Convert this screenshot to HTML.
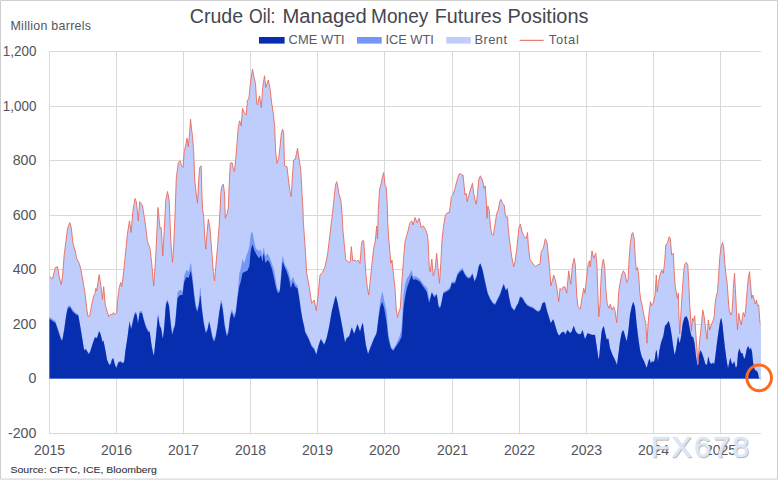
<!DOCTYPE html>
<html><head><meta charset="utf-8"><title>Crude Oil: Managed Money Futures Positions</title>
<style>
html,body{margin:0;padding:0;background:#fff;}
body{width:780px;height:483px;overflow:hidden;position:relative;font-family:"Liberation Sans",sans-serif;}
</style></head><body>
<svg width="780" height="483" viewBox="0 0 780 483" style="position:absolute;left:0;top:0;font-family:'Liberation Sans',sans-serif">
<rect x="0" y="0" width="780" height="483" fill="#fff"/>
<path d="M0.5 479.1V0.5H777.5V479.1Z" fill="none" stroke="#cfcfcf" stroke-width="1"/>
<path d="M49.5 51.5H761.2M49.5 106.5H761.2M49.5 160.5H761.2M49.5 215.5H761.2M49.5 269.5H761.2M49.5 324.5H761.2M49.5 378.5H761.2M49.5 433.5H761.2M49.5 51.0V434.3M116.5 51.0V434.3M183.5 51.0V434.3M250.5 51.0V434.3M317.5 51.0V434.3M384.5 51.0V434.3M452.5 51.0V434.3M519.5 51.0V434.3M586.5 51.0V434.3M653.5 51.0V434.3M720.5 51.0V434.3" stroke="#d9d9d9" stroke-width="1" fill="none"/>
<path d="M49.5 378.5L49.5 276.7L50.0 277.1L50.5 277.4L51.0 277.8L51.5 278.1L52.0 278.4L52.5 278.8L53.0 276.8L53.5 274.8L54.0 272.7L54.5 270.7L55.0 268.7L55.5 267.4L56.0 267.2L56.5 267.1L57.0 266.9L57.5 266.7L58.0 269.5L58.5 272.3L59.0 275.2L59.5 277.6L60.0 279.7L60.5 281.8L61.0 283.9L61.5 282.9L62.0 279.8L62.5 276.7L63.0 270.3L63.5 263.9L64.0 257.6L64.5 252.6L65.0 248.7L65.5 244.8L66.0 240.8L66.5 236.9L67.0 232.9L67.5 229.0L68.0 227.5L68.5 226.0L69.0 224.6L69.5 223.1L70.0 223.4L70.5 225.0L71.0 226.6L71.5 229.4L72.0 234.3L72.5 239.1L73.0 244.0L73.5 245.5L74.0 247.0L74.5 248.5L75.0 250.0L75.5 252.4L76.0 254.9L76.5 257.3L77.0 258.9L77.5 259.9L78.0 260.9L78.5 261.9L79.0 262.9L79.5 264.4L80.0 266.1L80.5 267.9L81.0 270.1L81.5 272.7L82.0 275.4L82.5 278.0L83.0 281.1L83.5 284.1L84.0 287.2L84.5 290.2L85.0 293.3L85.5 297.7L86.0 302.1L86.5 306.5L87.0 310.2L87.5 313.5L88.0 316.7L88.5 316.4L89.0 316.2L89.5 315.9L90.0 314.2L90.5 311.5L91.0 308.8L91.5 306.1L92.0 303.6L92.5 301.3L93.0 299.0L93.5 296.7L94.0 295.2L94.5 294.3L95.0 293.3L95.5 290.2L96.0 288.9L96.5 290.2L97.0 288.9L97.5 285.6L98.0 282.4L98.5 279.1L99.0 275.9L99.5 276.6L100.0 279.8L100.5 283.1L101.0 286.7L101.5 290.8L102.0 295.0L102.5 299.2L103.0 294.0L103.5 288.8L104.0 290.1L104.5 295.9L105.0 301.6L105.5 305.7L106.0 307.4L106.5 309.1L107.0 310.8L107.5 312.5L108.0 314.1L108.5 315.7L109.0 316.4L109.5 315.8L110.0 315.2L110.5 314.6L111.0 314.3L111.5 314.5L112.0 314.8L112.5 315.0L113.0 313.4L113.5 312.7L114.0 313.2L114.5 313.7L115.0 314.2L115.5 313.9L116.0 313.7L116.5 313.4L117.0 309.0L117.5 301.7L118.0 297.5L118.5 293.3L119.0 289.2L119.5 286.6L120.0 285.0L120.5 283.4L121.0 283.4L121.5 285.8L122.0 284.5L122.5 280.9L123.0 277.2L123.5 273.0L124.0 268.1L124.5 263.2L125.0 258.3L125.5 253.3L126.0 248.3L126.5 243.3L127.0 238.3L127.5 233.3L128.0 230.2L128.5 227.1L129.0 223.9L129.5 220.8L130.0 224.2L130.5 227.7L131.0 231.1L131.5 228.6L132.0 222.1L132.5 215.6L133.0 210.5L133.5 207.5L134.0 204.5L134.5 201.5L135.0 198.5L135.5 199.7L136.0 201.0L136.5 203.6L137.0 208.4L137.5 213.2L138.0 217.9L138.5 218.1L139.0 211.2L139.5 204.4L140.0 202.1L140.5 202.9L141.0 203.6L141.5 204.3L142.0 205.1L142.5 205.8L143.0 209.0L143.5 212.2L144.0 215.3L144.5 218.5L145.0 221.7L145.5 225.7L146.0 229.7L146.5 233.7L147.0 237.7L147.5 241.7L148.0 243.0L148.5 244.3L149.0 245.7L149.5 247.0L150.0 248.3L150.5 252.7L151.0 257.1L151.5 261.5L152.0 266.7L152.5 272.3L153.0 277.9L153.5 283.6L154.0 281.6L154.5 274.6L155.0 267.5L155.5 260.0L156.0 250.7L156.5 239.9L157.0 229.1L157.5 218.3L158.0 207.5L158.5 212.7L159.0 217.9L159.5 223.1L160.0 228.3L160.5 228.0L161.0 227.6L161.5 232.8L162.0 241.7L162.5 250.5L163.0 252.2L163.5 243.1L164.0 234.1L164.5 225.0L165.0 215.4L165.5 205.8L166.0 199.0L166.5 196.5L167.0 194.0L167.5 191.5L168.0 194.0L168.5 196.5L169.0 199.0L169.5 207.8L170.0 220.8L170.5 233.9L171.0 244.1L171.5 250.3L172.0 256.4L172.5 262.5L173.0 256.2L173.5 250.0L174.0 238.3L174.5 226.7L175.0 215.0L175.5 200.9L176.0 186.8L176.5 176.7L177.0 172.8L177.5 168.8L178.0 164.9L178.5 162.3L179.0 161.8L179.5 161.3L180.0 160.8L180.5 162.3L181.0 163.7L181.5 165.2L182.0 166.2L182.5 166.8L183.0 167.5L183.5 160.9L184.0 154.3L184.5 150.4L185.0 148.3L185.5 146.3L186.0 143.9L186.5 141.1L187.0 138.3L187.5 141.5L188.0 144.8L188.5 144.6L189.0 139.2L189.5 133.8L190.0 127.0L190.5 119.2L191.0 123.7L191.5 128.2L192.0 132.5L192.5 136.7L193.0 143.0L193.5 149.2L194.0 160.2L194.5 174.3L195.0 182.7L195.5 187.1L196.0 191.5L196.5 195.6L197.0 199.5L197.5 203.3L198.0 193.6L198.5 183.9L199.0 176.2L199.5 170.0L200.0 167.2L200.5 166.6L201.0 166.0L201.5 177.4L202.0 196.7L202.5 206.2L203.0 212.0L203.5 215.4L204.0 222.7L204.5 232.7L205.0 240.1L205.5 245.8L206.0 246.6L206.5 239.9L207.0 233.3L207.5 227.9L208.0 222.5L208.5 220.3L209.0 222.9L209.5 225.6L210.0 228.3L210.5 234.7L211.0 241.1L211.5 247.4L212.0 254.1L212.5 260.9L213.0 267.6L213.5 273.2L214.0 277.1L214.5 281.0L215.0 275.5L215.5 270.0L216.0 264.3L216.5 258.5L217.0 252.6L217.5 246.7L218.0 240.3L218.5 233.9L219.0 227.6L219.5 219.5L220.0 210.5L220.5 200.3L221.0 191.8L221.5 188.2L222.0 186.2L222.5 185.4L223.0 184.7L223.5 185.7L224.0 189.5L224.5 193.3L225.0 208.9L225.5 217.8L226.0 216.6L226.5 215.4L227.0 214.2L227.5 211.9L228.0 209.7L228.5 203.1L229.0 190.2L229.5 179.1L230.0 169.2L230.5 163.2L231.0 163.0L231.5 162.7L232.0 162.5L232.5 164.7L233.0 167.0L233.5 168.9L234.0 170.3L234.5 171.7L235.0 166.5L235.5 161.4L236.0 155.8L236.5 149.6L237.0 143.3L237.5 136.9L238.0 130.5L238.5 125.9L239.0 123.8L239.5 121.6L240.0 121.8L240.5 123.5L241.0 125.1L241.5 121.8L242.0 115.0L242.5 108.3L243.0 109.5L243.5 110.8L244.0 112.0L244.5 112.9L245.0 113.5L245.5 114.1L246.0 114.8L246.5 111.5L247.0 105.8L247.5 100.0L248.0 99.7L248.5 99.4L249.0 97.3L249.5 92.5L250.0 87.7L250.5 82.9L251.0 78.7L251.5 75.6L252.0 72.4L252.5 69.2L253.0 71.9L253.5 74.6L254.0 77.2L254.5 79.5L255.0 81.4L255.5 83.3L256.0 91.6L256.5 100.0L257.0 103.9L257.5 105.0L258.0 102.7L258.5 100.4L259.0 98.1L259.5 95.8L260.0 99.0L260.5 102.3L261.0 105.5L261.5 104.7L262.0 97.8L262.5 90.9L263.0 85.4L263.5 82.2L264.0 79.0L264.5 75.8L265.0 80.3L265.5 84.8L266.0 86.9L266.5 85.4L267.0 83.9L267.5 82.4L268.0 80.9L268.5 81.0L269.0 83.4L269.5 85.9L270.0 88.3L270.5 92.7L271.0 97.1L271.5 101.5L272.0 105.2L272.5 108.3L273.0 111.4L273.5 115.2L274.0 120.0L274.5 124.8L275.0 135.4L275.5 150.0L276.0 154.4L276.5 158.9L277.0 163.3L277.5 161.8L278.0 160.4L278.5 158.9L279.0 155.6L279.5 151.2L280.0 146.7L280.5 141.8L281.0 136.9L281.5 133.2L282.0 131.2L282.5 129.2L283.0 130.6L283.5 132.0L284.0 145.0L284.5 165.8L285.0 166.0L285.5 166.2L286.0 166.3L286.5 166.5L287.0 166.7L287.5 171.2L288.0 175.6L288.5 179.9L289.0 183.8L289.5 187.8L290.0 191.7L290.5 193.8L291.0 195.9L291.5 191.7L292.0 183.3L292.5 175.0L293.0 168.7L293.5 162.5L294.0 159.8L294.5 159.6L295.0 159.3L295.5 158.2L296.0 155.7L296.5 153.3L297.0 150.8L297.5 148.3L298.0 151.7L298.5 155.2L299.0 158.6L299.5 161.9L300.0 165.0L300.5 168.1L301.0 173.9L301.5 183.6L302.0 193.3L302.5 201.7L303.0 210.0L303.5 224.4L304.0 231.3L304.5 238.1L305.0 245.0L305.5 253.3L306.0 261.6L306.5 270.0L307.0 274.9L307.5 277.6L308.0 280.3L308.5 282.9L309.0 285.6L309.5 288.7L310.0 292.0L310.5 295.3L311.0 298.7L311.5 302.0L312.0 302.9L312.5 302.2L313.0 301.6L313.5 300.9L314.0 300.3L314.5 301.5L315.0 304.0L315.5 306.5L316.0 309.0L316.5 308.9L317.0 304.8L317.5 300.8L318.0 296.7L318.5 291.3L319.0 285.9L319.5 280.4L320.0 275.0L320.5 274.5L321.0 274.0L321.5 273.5L322.0 273.0L322.5 272.5L323.0 271.3L323.5 270.2L324.0 269.0L324.5 267.9L325.0 266.7L325.5 264.4L326.0 262.0L326.5 259.7L327.0 257.3L327.5 255.0L328.0 250.9L328.5 246.8L329.0 242.6L329.5 238.4L330.0 234.0L330.5 229.6L331.0 225.4L331.5 221.4L332.0 217.3L332.5 213.3L333.0 208.4L333.5 203.5L334.0 198.7L334.5 194.0L335.0 189.5L335.5 185.0L336.0 183.6L336.5 182.2L337.0 183.1L337.5 185.3L338.0 188.0L338.5 191.3L339.0 194.0L339.5 195.6L340.0 197.3L340.5 199.0L341.0 202.2L341.5 207.8L342.0 213.3L342.5 222.2L343.0 231.0L343.5 236.1L344.0 241.3L344.5 246.4L345.0 251.7L345.5 256.9L346.0 260.1L346.5 260.5L347.0 260.9L347.5 261.2L348.0 261.6L348.5 262.0L349.0 262.4L349.5 262.3L350.0 261.9L350.5 258.7L351.0 251.2L351.5 248.6L352.0 253.3L352.5 258.0L353.0 260.7L353.5 260.5L354.0 260.4L354.5 260.2L355.0 260.0L355.5 260.5L356.0 261.0L356.5 261.5L357.0 261.4L357.5 260.9L358.0 260.3L358.5 260.4L359.0 261.4L359.5 262.3L360.0 263.3L360.5 256.9L361.0 250.5L361.5 245.4L362.0 242.1L362.5 240.8L363.0 240.8L363.5 240.8L364.0 245.1L364.5 252.2L365.0 260.0L365.5 268.3L366.0 275.2L366.5 280.0L367.0 284.8L367.5 288.4L368.0 291.1L368.5 293.9L369.0 292.2L369.5 287.5L370.0 282.8L370.5 278.0L371.0 273.1L371.5 268.2L372.0 263.3L372.5 258.9L373.0 254.5L373.5 250.1L374.0 246.9L374.5 244.7L375.0 242.4L375.5 238.9L376.0 233.5L376.5 228.1L377.0 230.9L377.5 239.0L378.0 220.9L378.5 206.7L379.0 198.3L379.5 190.0L380.0 188.1L380.5 186.2L381.0 184.0L381.5 181.6L382.0 179.1L382.5 176.7L383.0 174.9L383.5 173.2L384.0 175.4L384.5 180.2L385.0 185.0L385.5 186.0L386.0 187.1L386.5 191.8L387.0 198.9L387.5 212.5L388.0 227.0L388.5 236.2L389.0 241.5L389.5 247.1L390.0 253.3L390.5 259.5L391.0 262.8L391.5 261.4L392.0 260.0L392.5 265.1L393.0 270.2L393.5 275.1L394.0 279.5L394.5 283.9L395.0 288.3L395.5 296.6L396.0 305.0L396.5 311.2L397.0 314.4L397.5 317.5L398.0 315.4L398.5 313.3L399.0 311.5L399.5 310.1L400.0 308.8L400.5 304.7L401.0 296.5L401.5 288.3L402.0 280.6L402.5 273.4L403.0 266.1L403.5 259.4L404.0 253.6L404.5 247.8L405.0 242.0L405.5 240.1L406.0 238.2L406.5 236.3L407.0 234.5L407.5 232.8L408.0 231.0L408.5 229.0L409.0 226.7L409.5 224.3L410.0 222.9L410.5 222.3L411.0 221.7L411.5 221.1L412.0 221.8L412.5 223.4L413.0 225.0L413.5 223.1L414.0 221.2L414.5 219.4L415.0 217.5L415.5 218.8L416.0 220.0L416.5 221.2L417.0 222.5L417.5 221.5L418.0 220.6L418.5 219.6L419.0 218.7L419.5 219.7L420.0 222.0L420.5 224.3L421.0 226.6L421.5 227.3L422.0 226.9L422.5 226.4L423.0 226.0L423.5 226.1L424.0 227.0L424.5 227.8L425.0 228.7L425.5 229.5L426.0 230.6L426.5 232.1L427.0 233.5L427.5 235.0L428.0 240.6L428.5 249.3L429.0 262.7L429.5 269.0L430.0 270.8L430.5 270.1L431.0 265.8L431.5 261.6L432.0 261.2L432.5 266.8L433.0 272.4L433.5 275.1L434.0 273.4L434.5 271.7L435.0 270.0L435.5 265.1L436.0 260.2L436.5 255.3L437.0 256.8L437.5 262.5L438.0 268.3L438.5 273.3L439.0 278.3L439.5 283.3L440.0 275.6L440.5 267.9L441.0 259.4L441.5 249.7L442.0 240.0L442.5 235.5L443.0 231.0L443.5 226.9L444.0 223.5L444.5 220.1L445.0 216.7L445.5 215.7L446.0 214.7L446.5 213.7L447.0 213.2L447.5 213.0L448.0 212.9L448.5 212.7L449.0 212.6L449.5 210.9L450.0 208.3L450.5 204.7L451.0 199.7L451.5 196.4L452.0 195.8L452.5 195.2L453.0 194.6L453.5 193.5L454.0 191.8L454.5 190.0L455.0 188.3L455.5 186.4L456.0 184.4L456.5 182.5L457.0 180.7L457.5 179.0L458.0 177.3L458.5 175.7L459.0 174.6L459.5 174.0L460.0 173.3L460.5 173.8L461.0 174.3L461.5 174.8L462.0 175.0L462.5 175.0L463.0 175.0L463.5 179.9L464.0 184.8L464.5 189.8L465.0 195.0L465.5 194.3L466.0 193.6L466.5 195.8L467.0 200.0L467.5 200.4L468.0 198.3L468.5 196.3L469.0 194.3L469.5 192.7L470.0 191.0L470.5 189.3L471.0 187.7L471.5 186.2L472.0 184.8L472.5 183.3L473.0 187.5L473.5 191.6L474.0 194.8L474.5 197.4L475.0 200.0L475.5 201.6L476.0 203.2L476.5 202.4L477.0 197.8L477.5 193.3L478.0 187.8L478.5 182.2L479.0 179.2L479.5 177.9L480.0 176.6L480.5 176.2L481.0 177.1L481.5 178.1L482.0 179.0L482.5 180.0L483.0 182.4L483.5 184.9L484.0 187.3L484.5 187.6L485.0 186.5L485.5 189.0L486.0 196.8L486.5 206.9L487.0 218.3L487.5 210.5L488.0 206.4L488.5 207.9L489.0 209.4L489.5 214.1L490.0 220.9L490.5 226.3L491.0 229.6L491.5 232.9L492.0 234.3L492.5 234.6L493.0 234.8L493.5 233.8L494.0 230.9L494.5 227.9L495.0 225.0L495.5 221.6L496.0 218.1L496.5 214.7L497.0 212.7L497.5 211.7L498.0 210.6L498.5 208.8L499.0 205.8L499.5 202.9L500.0 201.0L500.5 199.9L501.0 199.7L501.5 200.9L502.0 202.1L502.5 203.3L503.0 203.8L503.5 204.3L504.0 204.8L504.5 207.7L505.0 212.3L505.5 215.4L506.0 216.2L506.5 217.1L507.0 217.2L507.5 216.7L508.0 223.9L508.5 230.2L509.0 235.1L509.5 240.0L510.0 243.3L510.5 247.2L511.0 251.2L511.5 255.1L512.0 258.2L512.5 260.7L513.0 263.2L513.5 265.7L514.0 265.5L514.5 263.6L515.0 261.7L515.5 258.3L516.0 254.8L516.5 251.4L517.0 246.9L517.5 241.8L518.0 236.7L518.5 231.4L519.0 227.8L519.5 226.4L520.0 225.0L520.5 225.1L521.0 227.3L521.5 229.5L522.0 231.7L522.5 232.8L523.0 234.0L523.5 235.1L524.0 236.2L524.5 236.9L525.0 237.3L525.5 237.7L526.0 238.1L526.5 237.3L527.0 234.9L527.5 232.5L528.0 240.3L528.5 246.8L529.0 251.2L529.5 255.6L530.0 260.0L530.5 260.5L531.0 261.0L531.5 261.5L532.0 262.2L532.5 262.9L533.0 263.7L533.5 264.4L534.0 265.0L534.5 265.6L535.0 266.1L535.5 266.7L536.0 266.3L536.5 265.9L537.0 265.4L537.5 265.0L538.0 264.8L538.5 264.7L539.0 264.5L539.5 264.4L540.0 264.2L540.5 259.0L541.0 253.8L541.5 251.2L542.0 250.4L542.5 249.6L543.0 248.8L543.5 247.3L544.0 245.0L544.5 242.6L545.0 240.2L545.5 239.2L546.0 240.3L546.5 241.4L547.0 242.5L547.5 247.3L548.0 252.1L548.5 257.2L549.0 262.5L549.5 267.9L550.0 273.3L550.5 281.1L551.0 285.1L551.5 283.4L552.0 281.7L552.5 280.0L553.0 277.9L553.5 275.8L554.0 275.9L554.5 277.5L555.0 279.1L555.5 281.0L556.0 283.4L556.5 285.7L557.0 288.9L557.5 292.7L558.0 296.4L558.5 300.2L559.0 298.6L559.5 293.5L560.0 288.3L560.5 288.8L561.0 289.3L561.5 289.8L562.0 289.4L562.5 288.4L563.0 287.3L563.5 286.7L564.0 286.8L564.5 286.9L565.0 287.0L565.5 288.9L566.0 290.7L566.5 292.6L567.0 289.9L567.5 284.3L568.0 278.7L568.5 273.1L569.0 272.7L569.5 275.9L570.0 279.1L570.5 282.3L571.0 281.9L571.5 276.3L572.0 270.6L572.5 265.0L573.0 263.0L573.5 261.1L574.0 259.1L574.5 260.1L575.0 263.2L575.5 269.3L576.0 280.0L576.5 290.7L577.0 297.7L577.5 302.2L578.0 306.7L578.5 307.2L579.0 307.8L579.5 308.3L580.0 308.9L580.5 307.9L581.0 304.6L581.5 301.3L582.0 298.1L582.5 295.0L583.0 292.2L583.5 289.4L584.0 289.5L584.5 291.4L585.0 293.3L585.5 288.4L586.0 283.5L586.5 278.7L587.0 274.2L587.5 270.0L588.0 265.8L588.5 262.9L589.0 262.1L589.5 261.2L590.0 263.8L590.5 264.8L591.0 260.2L591.5 255.5L592.0 250.8L592.5 253.0L593.0 255.2L593.5 257.4L594.0 257.6L594.5 256.4L595.0 255.2L595.5 254.0L596.0 255.5L596.5 261.1L597.0 266.7L597.5 282.3L598.0 296.7L598.5 309.2L599.0 314.7L599.5 309.9L600.0 305.0L600.5 291.4L601.0 280.0L601.5 271.6L602.0 266.6L602.5 263.8L603.0 260.9L603.5 260.3L604.0 262.9L604.5 265.6L605.0 272.6L605.5 282.4L606.0 290.5L606.5 296.1L607.0 301.7L607.5 305.0L608.0 306.0L608.5 306.9L609.0 307.9L609.5 307.2L610.0 305.3L610.5 304.9L611.0 306.6L611.5 308.3L612.0 310.0L612.5 309.0L613.0 308.1L613.5 307.1L614.0 307.6L614.5 309.2L615.0 310.8L615.5 314.2L616.0 317.7L616.5 321.1L617.0 318.6L617.5 312.2L618.0 304.6L618.5 295.4L619.0 289.8L619.5 286.5L620.0 283.3L620.5 280.9L621.0 278.4L621.5 276.0L622.0 274.2L622.5 272.9L623.0 271.6L623.5 271.1L624.0 271.8L624.5 272.6L625.0 273.3L625.5 276.0L626.0 278.7L626.5 281.4L627.0 281.9L627.5 281.0L628.0 280.0L628.5 271.0L629.0 261.9L629.5 254.2L630.0 247.4L630.5 242.0L631.0 238.8L631.5 235.5L632.0 233.7L632.5 233.0L633.0 233.3L633.5 235.4L634.0 237.5L634.5 243.8L635.0 252.8L635.5 260.6L636.0 266.5L636.5 269.6L637.0 268.5L637.5 267.5L638.0 270.6L638.5 273.7L639.0 280.0L639.5 288.4L640.0 294.0L640.5 297.7L641.0 300.8L641.5 302.9L642.0 305.0L642.5 307.7L643.0 310.3L643.5 313.0L644.0 315.6L644.5 317.9L645.0 320.0L645.5 322.1L646.0 326.6L646.5 335.0L647.0 343.3L647.5 334.1L648.0 325.0L648.5 319.5L649.0 313.9L649.5 309.4L650.0 305.5L650.5 301.7L651.0 303.3L651.5 304.9L652.0 305.0L652.5 304.2L653.0 303.5L653.5 302.1L654.0 299.9L654.5 297.7L655.0 295.5L655.5 287.6L656.0 279.7L656.5 278.7L657.0 288.0L657.5 289.4L658.0 285.6L658.5 282.3L659.0 279.9L659.5 277.4L660.0 275.0L660.5 273.5L661.0 272.1L661.5 270.6L662.0 270.6L662.5 271.6L663.0 272.7L663.5 271.6L664.0 267.5L664.5 263.4L665.0 257.1L665.5 249.6L666.0 244.7L666.5 244.0L667.0 243.2L667.5 242.5L668.0 240.8L668.5 239.1L669.0 237.4L669.5 237.1L670.0 237.9L670.5 240.7L671.0 246.7L671.5 252.6L672.0 254.7L672.5 254.2L673.0 253.6L673.5 257.4L674.0 267.6L674.5 275.8L675.0 282.6L675.5 287.9L676.0 290.9L676.5 293.8L677.0 296.2L677.5 298.3L678.0 295.0L678.5 300.5L679.0 316.7L679.5 329.0L680.0 328.8L680.5 320.0L681.0 311.6L681.5 303.3L682.0 295.8L682.5 288.3L683.0 281.4L683.5 274.5L684.0 269.5L684.5 265.7L685.0 263.9L685.5 263.4L686.0 262.8L686.5 262.8L687.0 263.7L687.5 264.5L688.0 268.7L688.5 277.8L689.0 288.2L689.5 300.5L690.0 308.7L690.5 316.6L691.0 325.6L691.5 328.8L692.0 323.4L692.5 318.0L693.0 319.2L693.5 320.3L694.0 319.3L694.5 316.8L695.0 320.6L695.5 328.5L696.0 336.1L696.5 343.0L697.0 350.0L697.5 357.1L698.0 364.2L698.5 356.2L699.0 348.2L699.5 342.3L700.0 337.8L700.5 333.3L701.0 328.5L701.5 323.6L702.0 318.5L702.5 313.2L703.0 311.0L703.5 313.4L704.0 315.7L704.5 319.2L705.0 323.4L705.5 327.5L706.0 331.5L706.5 335.4L707.0 339.2L707.5 331.8L708.0 324.4L708.5 321.4L709.0 325.0L709.5 328.6L710.0 329.1L710.5 327.5L711.0 325.9L711.5 324.5L712.0 323.3L712.5 322.0L713.0 320.8L713.5 319.1L714.0 317.4L714.5 312.3L715.0 305.0L715.5 300.8L716.0 297.5L716.5 295.6L717.0 293.6L717.5 291.7L718.0 284.7L718.5 277.8L719.0 270.0L719.5 261.6L720.0 255.6L720.5 251.0L721.0 247.6L721.5 245.9L722.0 244.2L722.5 242.5L723.0 244.2L723.5 246.0L724.0 251.2L724.5 258.7L725.0 264.9L725.5 270.1L726.0 274.7L726.5 278.3L727.0 281.9L727.5 287.7L728.0 295.0L728.5 302.1L729.0 308.0L729.5 310.9L730.0 312.5L730.5 314.1L731.0 314.4L731.5 313.1L732.0 311.7L732.5 304.4L733.0 295.3L733.5 285.8L734.0 279.5L734.5 273.3L735.0 282.7L735.5 292.0L736.0 301.3L736.5 312.0L737.0 321.7L737.5 330.0L738.0 323.0L738.5 316.1L739.0 314.8L739.5 317.4L740.0 320.0L740.5 321.9L741.0 323.8L741.5 323.6L742.0 320.2L742.5 316.7L743.0 314.1L743.5 313.1L744.0 314.6L744.5 316.1L745.0 314.3L745.5 310.4L746.0 305.3L746.5 298.5L747.0 291.7L747.5 286.5L748.0 281.4L748.5 277.2L749.0 274.4L749.5 271.7L750.0 277.5L750.5 283.3L751.0 289.5L751.5 295.8L752.0 297.4L752.5 295.9L753.0 295.7L753.5 297.5L754.0 299.3L754.5 301.1L755.0 302.9L755.5 303.3L756.0 301.7L756.5 300.0L757.0 303.0L757.5 306.0L758.0 305.6L758.5 305.2L759.0 309.2L759.5 316.3L760.0 323.3L760.5 323.3L760.5 378.5 Z" fill="#becdfb"/>
<path d="M49.5 378.5L49.5 316.8L50.0 317.2L50.5 317.6L51.0 317.9L51.5 318.3L52.0 318.7L52.5 319.1L53.0 319.4L53.5 319.7L54.0 320.1L54.5 320.4L55.0 320.8L55.5 321.1L56.0 322.7L56.5 324.2L57.0 325.7L57.5 327.3L58.0 328.8L58.5 330.3L59.0 331.8L59.5 333.3L60.0 334.8L60.5 336.3L61.0 337.8L61.5 338.6L62.0 338.4L62.5 338.2L63.0 335.3L63.5 332.3L64.0 329.4L64.5 326.1L65.0 322.5L65.5 318.9L66.0 315.3L66.5 312.3L67.0 309.9L67.5 307.6L68.0 306.1L68.5 305.9L69.0 305.7L69.5 305.4L70.0 305.2L70.5 306.1L71.0 306.9L71.5 307.8L72.0 308.7L72.5 309.6L73.0 310.1L73.5 310.6L74.0 311.2L74.5 311.7L75.0 312.3L75.5 312.8L76.0 313.0L76.5 313.3L77.0 313.5L77.5 313.7L78.0 314.0L78.5 315.3L79.0 318.1L79.5 321.0L80.0 323.8L80.5 326.9L81.0 330.0L81.5 333.1L82.0 336.2L82.5 339.3L83.0 342.4L83.5 345.5L84.0 348.6L84.5 349.5L85.0 349.0L85.5 348.5L86.0 348.6L86.5 349.4L87.0 350.3L87.5 351.2L88.0 352.1L88.5 352.9L89.0 352.8L89.5 352.0L90.0 351.3L90.5 350.1L91.0 348.4L91.5 346.7L92.0 345.0L92.5 343.3L93.0 342.0L93.5 340.6L94.0 339.3L94.5 338.0L95.0 336.6L95.5 336.8L96.0 337.1L96.5 337.3L97.0 337.5L97.5 335.8L98.0 334.2L98.5 332.5L99.0 330.9L99.5 330.9L100.0 332.2L100.5 333.4L101.0 335.1L101.5 337.3L102.0 339.5L102.5 341.7L103.0 340.1L103.5 340.2L104.0 342.7L104.5 345.2L105.0 347.7L105.5 350.4L106.0 353.3L106.5 356.3L107.0 359.2L107.5 360.3L108.0 361.5L108.5 362.6L109.0 363.7L109.5 364.1L110.0 363.8L110.5 363.5L111.0 362.5L111.5 360.1L112.0 358.9L112.5 358.3L113.0 357.8L113.5 358.3L114.0 360.4L114.5 362.6L115.0 364.2L115.5 365.4L116.0 366.7L116.5 366.9L117.0 365.5L117.5 364.0L118.0 362.6L118.5 361.6L119.0 361.5L119.5 361.3L120.0 361.2L120.5 361.0L121.0 361.1L121.5 361.6L122.0 362.0L122.5 362.5L123.0 362.3L123.5 362.0L124.0 361.8L124.5 358.8L125.0 353.8L125.5 349.5L126.0 346.2L126.5 342.9L127.0 339.5L127.5 336.2L128.0 332.2L128.5 328.2L129.0 324.3L129.5 320.3L130.0 322.4L130.5 324.7L131.0 326.9L131.5 326.3L132.0 324.0L132.5 321.6L133.0 319.2L133.5 317.2L134.0 315.3L134.5 313.4L135.0 311.4L135.5 311.8L136.0 312.2L136.5 312.6L137.0 314.8L137.5 318.4L138.0 321.9L138.5 318.6L139.0 315.2L139.5 311.9L140.0 310.7L140.5 310.8L141.0 311.0L141.5 311.2L142.0 311.3L142.5 313.3L143.0 315.3L143.5 317.3L144.0 319.1L144.5 320.7L145.0 322.3L145.5 324.0L146.0 325.7L146.5 326.7L147.0 327.8L147.5 328.8L148.0 329.9L148.5 330.5L149.0 330.5L149.5 330.5L150.0 332.8L150.5 336.5L151.0 340.2L151.5 344.0L152.0 346.9L152.5 349.3L153.0 351.6L153.5 354.0L154.0 353.6L154.5 349.0L155.0 344.4L155.5 339.8L156.0 334.9L156.5 329.6L157.0 324.3L157.5 318.9L158.0 313.6L158.5 316.9L159.0 320.2L159.5 323.5L160.0 325.3L160.5 326.0L161.0 326.8L161.5 329.2L162.0 332.8L162.5 336.4L163.0 336.8L163.5 332.5L164.0 328.2L164.5 322.2L165.0 315.0L165.5 307.8L166.0 302.9L166.5 301.6L167.0 300.3L167.5 299.6L168.0 301.1L168.5 302.6L169.0 304.1L169.5 309.3L170.0 314.6L170.5 319.8L171.0 324.3L171.5 327.7L172.0 331.2L172.5 332.3L173.0 329.9L173.5 327.6L174.0 325.9L174.5 324.7L175.0 323.5L175.5 317.4L176.0 311.3L176.5 305.1L177.0 299.0L177.5 292.9L178.0 291.6L178.5 291.2L179.0 290.7L179.5 290.3L180.0 289.8L180.5 290.1L181.0 290.5L181.5 290.8L182.0 291.2L182.5 291.6L183.0 288.1L183.5 282.9L184.0 277.8L184.5 274.9L185.0 273.6L185.5 272.3L186.0 271.0L186.5 269.7L187.0 269.7L187.5 270.4L188.0 271.2L188.5 272.0L189.0 270.8L189.5 268.3L190.0 265.7L190.5 263.2L191.0 263.4L191.5 267.6L192.0 271.8L192.5 275.9L193.0 281.1L193.5 286.0L194.0 290.9L194.5 295.4L195.0 299.5L195.5 303.1L196.0 305.7L196.5 306.7L197.0 307.7L197.5 308.7L198.0 306.2L198.5 303.8L199.0 301.3L199.5 295.3L200.0 288.4L200.5 287.3L201.0 294.8L201.5 302.3L202.0 307.6L202.5 311.5L203.0 315.4L203.5 319.3L204.0 322.4L204.5 325.0L205.0 327.5L205.5 329.8L206.0 330.9L206.5 329.9L207.0 328.9L207.5 327.9L208.0 325.4L208.5 322.9L209.0 320.5L209.5 321.0L210.0 323.6L210.5 326.1L211.0 328.6L211.5 331.1L212.0 333.5L212.5 335.9L213.0 336.9L213.5 338.0L214.0 339.1L214.5 338.5L215.0 336.8L215.5 335.1L216.0 332.9L216.5 329.9L217.0 326.9L217.5 323.9L218.0 320.0L218.5 316.0L219.0 312.0L219.5 308.7L220.0 305.7L220.5 302.8L221.0 299.9L221.5 300.3L222.0 302.9L222.5 305.5L223.0 308.9L223.5 313.3L224.0 317.8L224.5 322.2L225.0 324.9L225.5 327.6L226.0 330.3L226.5 332.9L227.0 333.4L227.5 332.4L228.0 331.3L228.5 329.0L229.0 324.6L229.5 320.2L230.0 315.8L230.5 313.8L231.0 311.7L231.5 309.7L232.0 309.6L232.5 310.8L233.0 312.1L233.5 313.3L234.0 314.5L234.5 314.0L235.0 312.4L235.5 310.7L236.0 307.9L236.5 303.4L237.0 298.9L237.5 294.4L238.0 290.9L238.5 283.7L239.0 276.6L239.5 272.8L240.0 271.2L240.5 269.6L241.0 267.5L241.5 264.5L242.0 261.5L242.5 258.5L243.0 260.0L243.5 261.5L244.0 263.0L244.5 262.5L245.0 260.6L245.5 258.8L246.0 257.0L246.5 255.1L247.0 253.9L247.5 253.0L248.0 251.3L248.5 249.5L249.0 247.7L249.5 245.9L250.0 241.0L250.5 236.2L251.0 233.2L251.5 232.8L252.0 232.4L252.5 231.9L253.0 234.8L253.5 237.6L254.0 240.5L254.5 242.8L255.0 244.9L255.5 247.0L256.0 248.4L256.5 249.0L257.0 249.4L257.5 249.7L258.0 250.0L258.5 250.4L259.0 251.2L259.5 251.0L260.0 250.1L260.5 249.6L261.0 250.2L261.5 252.6L262.0 254.6L262.5 256.4L263.0 252.1L263.5 247.7L264.0 248.0L264.5 251.3L265.0 254.6L265.5 256.5L266.0 255.7L266.5 254.9L267.0 254.1L267.5 253.3L268.0 254.1L268.5 255.0L269.0 255.8L269.5 257.2L270.0 258.8L270.5 259.9L271.0 261.1L271.5 262.2L272.0 263.8L272.5 265.6L273.0 266.9L273.5 268.1L274.0 269.5L274.5 271.9L275.0 275.0L275.5 278.1L276.0 281.1L276.5 283.9L277.0 286.7L277.5 289.5L278.0 289.7L278.5 290.0L279.0 290.2L279.5 290.4L280.0 286.6L280.5 280.0L281.0 273.1L281.5 265.7L282.0 260.8L282.5 256.0L283.0 256.7L283.5 258.9L284.0 261.1L284.5 263.0L285.0 264.8L285.5 265.6L286.0 266.4L286.5 267.2L287.0 268.2L287.5 269.4L288.0 270.6L288.5 271.7L289.0 273.2L289.5 275.2L290.0 277.2L290.5 280.1L291.0 281.3L291.5 280.1L292.0 278.9L292.5 277.7L293.0 276.5L293.5 278.1L294.0 279.6L294.5 281.1L295.0 282.6L295.5 283.2L296.0 283.8L296.5 284.4L297.0 285.0L297.5 285.5L298.0 288.6L298.5 291.7L299.0 294.8L299.5 298.3L300.0 302.1L300.5 305.9L301.0 309.3L301.5 312.3L302.0 315.3L302.5 318.2L303.0 320.3L303.5 322.3L304.0 324.3L304.5 327.1L305.0 330.5L305.5 331.5L306.0 332.4L306.5 333.4L307.0 334.4L307.5 335.3L308.0 336.3L308.5 337.4L309.0 338.6L309.5 339.9L310.0 341.1L310.5 342.3L311.0 343.6L311.5 344.8L312.0 345.6L312.5 346.1L313.0 346.7L313.5 347.2L314.0 347.7L314.5 348.7L315.0 350.1L315.5 351.5L316.0 352.9L316.5 352.9L317.0 350.8L317.5 348.8L318.0 346.7L318.5 344.9L319.0 343.4L319.5 341.9L320.0 340.4L320.5 338.9L321.0 338.4L321.5 339.2L322.0 340.1L322.5 341.0L323.0 341.8L323.5 342.7L324.0 343.5L324.5 343.1L325.0 341.8L325.5 340.4L326.0 339.1L326.5 337.8L327.0 335.8L327.5 333.5L328.0 331.2L328.5 328.9L329.0 326.6L329.5 323.9L330.0 320.9L330.5 317.9L331.0 314.9L331.5 311.9L332.0 309.5L332.5 307.5L333.0 305.5L333.5 303.5L334.0 301.5L334.5 299.5L335.0 297.6L335.5 295.7L336.0 295.3L336.5 297.4L337.0 299.4L337.5 301.5L338.0 304.0L338.5 306.5L339.0 309.0L339.5 311.5L340.0 314.0L340.5 316.7L341.0 319.3L341.5 322.0L342.0 324.6L342.5 327.3L343.0 330.1L343.5 333.0L344.0 335.8L344.5 338.7L345.0 341.5L345.5 340.3L346.0 339.0L346.5 337.8L347.0 337.1L347.5 336.8L348.0 336.5L348.5 336.1L349.0 335.8L349.5 334.6L350.0 332.8L350.5 330.9L351.0 329.1L351.5 327.2L352.0 327.3L352.5 328.6L353.0 330.0L353.5 331.3L354.0 332.7L354.5 332.3L355.0 330.8L355.5 329.3L356.0 327.7L356.5 326.2L357.0 324.7L357.5 323.2L358.0 324.7L358.5 326.2L359.0 327.7L359.5 329.2L360.0 330.7L360.5 329.1L361.0 327.4L361.5 325.8L362.0 324.1L362.5 322.5L363.0 323.0L363.5 326.9L364.0 330.8L364.5 334.5L365.0 338.1L365.5 341.8L366.0 344.8L366.5 346.9L367.0 349.0L367.5 351.1L368.0 353.2L368.5 351.9L369.0 350.5L369.5 349.2L370.0 347.8L370.5 346.5L371.0 345.2L371.5 344.0L372.0 342.7L372.5 341.5L373.0 340.3L373.5 339.0L374.0 337.8L374.5 336.7L375.0 335.7L375.5 334.7L376.0 333.7L376.5 332.1L377.0 328.6L377.5 323.9L378.0 319.2L378.5 314.8L379.0 310.9L379.5 307.0L380.0 303.0L380.5 299.7L381.0 297.3L381.5 294.8L382.0 292.4L382.5 291.7L383.0 294.2L383.5 296.8L384.0 299.3L384.5 301.7L385.0 304.1L385.5 306.5L386.0 308.9L386.5 311.3L387.0 316.2L387.5 322.8L388.0 329.4L388.5 334.3L389.0 336.8L389.5 339.2L390.0 341.7L390.5 344.2L391.0 346.1L391.5 347.0L392.0 348.0L392.5 348.4L393.0 348.9L393.5 348.8L394.0 347.9L394.5 347.0L395.0 346.1L395.5 345.3L396.0 344.4L396.5 343.3L397.0 342.2L397.5 341.1L398.0 340.0L398.5 338.9L399.0 337.7L399.5 336.5L400.0 335.1L400.5 332.9L401.0 330.7L401.5 328.5L402.0 321.8L402.5 312.3L403.0 302.7L403.5 295.5L404.0 291.8L404.5 288.4L405.0 285.3L405.5 283.3L406.0 281.4L406.5 279.4L407.0 278.3L407.5 277.7L408.0 277.1L408.5 276.3L409.0 275.3L409.5 274.3L410.0 273.2L410.5 272.2L411.0 271.1L411.5 270.1L412.0 271.9L412.5 273.8L413.0 275.6L413.5 276.7L414.0 276.6L414.5 276.5L415.0 276.4L415.5 276.3L416.0 276.5L416.5 276.8L417.0 277.2L417.5 277.6L418.0 278.0L418.5 278.3L419.0 278.6L419.5 278.9L420.0 279.2L420.5 280.0L421.0 280.7L421.5 281.5L422.0 282.2L422.5 282.9L423.0 283.5L423.5 284.2L424.0 284.9L424.5 285.5L425.0 286.2L425.5 286.5L426.0 286.8L426.5 287.0L427.0 288.3L427.5 290.1L428.0 292.0L428.5 294.5L429.0 298.0L429.5 298.9L430.0 297.9L430.5 295.9L431.0 293.8L431.5 291.8L432.0 291.5L432.5 292.4L433.0 293.3L433.5 294.2L434.0 295.1L434.5 295.4L435.0 295.5L435.5 294.6L436.0 293.7L436.5 292.9L437.0 294.6L437.5 298.0L438.0 301.4L438.5 304.8L439.0 305.8L439.5 306.2L440.0 306.6L440.5 305.5L441.0 303.4L441.5 301.3L442.0 298.9L442.5 296.1L443.0 293.4L443.5 291.7L444.0 291.5L444.5 291.2L445.0 291.0L445.5 290.7L446.0 290.5L446.5 290.2L447.0 289.9L447.5 289.5L448.0 289.1L448.5 288.7L449.0 288.3L449.5 287.9L450.0 287.5L450.5 285.8L451.0 284.0L451.5 282.3L452.0 281.6L452.5 281.6L453.0 281.5L453.5 281.5L454.0 281.5L454.5 281.5L455.0 281.5L455.5 279.8L456.0 278.1L456.5 276.4L457.0 274.8L457.5 273.1L458.0 272.4L458.5 271.7L459.0 271.1L459.5 270.4L460.0 269.7L460.5 269.4L461.0 269.1L461.5 268.8L462.0 268.4L462.5 268.1L463.0 269.1L463.5 270.2L464.0 271.2L464.5 272.2L465.0 273.2L465.5 273.9L466.0 274.6L466.5 275.3L467.0 276.0L467.5 276.7L468.0 276.7L468.5 276.7L469.0 276.8L469.5 276.8L470.0 276.8L470.5 276.0L471.0 275.2L471.5 274.4L472.0 273.6L472.5 272.8L473.0 274.7L473.5 276.6L474.0 278.5L474.5 280.4L475.0 279.3L475.5 278.2L476.0 277.1L476.5 276.0L477.0 274.0L477.5 271.6L478.0 269.1L478.5 266.6L479.0 265.0L479.5 264.0L480.0 262.9L480.5 262.9L481.0 264.4L481.5 265.9L482.0 267.4L482.5 268.9L483.0 271.3L483.5 273.6L484.0 275.9L484.5 278.3L485.0 280.6L485.5 282.8L486.0 285.1L486.5 287.3L487.0 289.6L487.5 291.8L488.0 293.0L488.5 294.2L489.0 295.4L489.5 296.6L490.0 297.8L490.5 298.6L491.0 299.4L491.5 300.1L492.0 300.9L492.5 301.7L493.0 302.1L493.5 302.5L494.0 302.9L494.5 303.3L495.0 303.7L495.5 302.7L496.0 301.7L496.5 300.6L497.0 299.6L497.5 298.6L498.0 297.6L498.5 296.6L499.0 295.6L499.5 294.6L500.0 293.6L500.5 292.1L501.0 290.6L501.5 289.1L502.0 287.7L502.5 286.2L503.0 284.7L503.5 283.3L504.0 283.7L504.5 285.4L505.0 287.0L505.5 288.6L506.0 289.3L506.5 288.6L507.0 287.9L507.5 287.2L508.0 290.2L508.5 293.2L509.0 296.2L509.5 298.8L510.0 301.0L510.5 303.2L511.0 305.3L511.5 306.6L512.0 307.2L512.5 307.8L513.0 308.4L513.5 309.1L514.0 309.7L514.5 309.4L515.0 308.4L515.5 307.3L516.0 306.3L516.5 305.3L517.0 304.5L517.5 303.7L518.0 302.9L518.5 301.7L519.0 299.8L519.5 298.0L520.0 296.1L520.5 296.4L521.0 296.6L521.5 296.9L522.0 297.1L522.5 297.4L523.0 298.3L523.5 299.2L524.0 300.1L524.5 301.0L525.0 301.9L525.5 302.4L526.0 303.0L526.5 303.6L527.0 304.2L527.5 304.8L528.0 305.1L528.5 305.3L529.0 305.5L529.5 305.8L530.0 306.0L530.5 306.2L531.0 306.4L531.5 306.6L532.0 306.8L532.5 307.0L533.0 307.2L533.5 307.5L534.0 307.9L534.5 308.4L535.0 308.8L535.5 309.2L536.0 309.6L536.5 309.9L537.0 310.2L537.5 310.5L538.0 310.8L538.5 310.8L539.0 310.3L539.5 309.9L540.0 309.4L540.5 308.7L541.0 307.1L541.5 305.5L542.0 303.9L542.5 302.3L543.0 302.1L543.5 302.0L544.0 301.8L544.5 301.7L545.0 301.5L545.5 303.7L546.0 305.9L546.5 308.2L547.0 310.1L547.5 311.7L548.0 313.4L548.5 315.1L549.0 316.8L549.5 318.4L550.0 320.0L550.5 321.5L551.0 322.2L551.5 321.4L552.0 320.6L552.5 319.8L553.0 319.0L553.5 319.2L554.0 320.9L554.5 322.6L555.0 324.3L555.5 326.0L556.0 327.7L556.5 329.4L557.0 331.0L557.5 332.7L558.0 333.5L558.5 334.2L559.0 335.0L559.5 334.9L560.0 334.2L560.5 333.6L561.0 332.9L561.5 332.3L562.0 331.9L562.5 331.7L563.0 331.6L563.5 331.4L564.0 331.3L564.5 332.4L565.0 334.5L565.5 333.5L566.0 332.5L566.5 331.5L567.0 330.5L567.5 329.5L568.0 330.2L568.5 330.8L569.0 331.5L569.5 332.1L570.0 332.8L570.5 332.3L571.0 331.9L571.5 331.4L572.0 330.3L572.5 328.8L573.0 327.4L573.5 325.9L574.0 326.1L574.5 327.6L575.0 329.0L575.5 330.4L576.0 331.4L576.5 331.9L577.0 332.4L577.5 332.9L578.0 333.4L578.5 333.7L579.0 333.7L579.5 333.7L580.0 333.7L580.5 333.7L581.0 333.2L581.5 332.0L582.0 330.7L582.5 329.5L583.0 331.4L583.5 333.2L584.0 335.0L584.5 336.9L585.0 338.7L585.5 337.5L586.0 336.4L586.5 335.2L587.0 334.0L587.5 332.8L588.0 333.0L588.5 333.2L589.0 333.4L589.5 333.5L590.0 333.7L590.5 333.9L591.0 334.0L591.5 334.2L592.0 334.4L592.5 334.5L593.0 334.5L593.5 334.5L594.0 334.5L594.5 334.5L595.0 334.5L595.5 338.0L596.0 341.4L596.5 344.8L597.0 348.2L597.5 351.6L598.0 354.9L598.5 358.3L599.0 358.2L599.5 352.9L600.0 347.7L600.5 342.5L601.0 337.4L601.5 332.3L602.0 329.6L602.5 328.3L603.0 327.1L603.5 325.8L604.0 326.7L604.5 329.1L605.0 331.4L605.5 333.8L606.0 336.2L606.5 338.6L607.0 339.2L607.5 338.7L608.0 338.1L608.5 339.0L609.0 341.9L609.5 344.9L610.0 347.8L610.5 349.2L611.0 350.5L611.5 351.8L612.0 353.2L612.5 354.5L613.0 355.5L613.5 356.5L614.0 357.5L614.5 358.5L615.0 359.5L615.5 360.8L616.0 362.0L616.5 363.3L617.0 364.5L617.5 360.7L618.0 356.8L618.5 353.0L619.0 349.1L619.5 345.1L620.0 341.2L620.5 338.5L621.0 335.8L621.5 333.1L622.0 331.6L622.5 330.8L623.0 330.0L623.5 330.2L624.0 331.9L624.5 333.6L625.0 335.3L625.5 337.1L626.0 338.8L626.5 340.5L627.0 339.4L627.5 336.2L628.0 333.1L628.5 329.3L629.0 324.4L629.5 319.4L630.0 314.5L630.5 312.1L631.0 309.7L631.5 307.2L632.0 305.3L632.5 303.7L633.0 302.2L633.5 301.9L634.0 303.6L634.5 305.3L635.0 307.0L635.5 312.2L636.0 317.3L636.5 322.5L637.0 327.0L637.5 331.2L638.0 335.3L638.5 339.2L639.0 342.7L639.5 346.1L640.0 349.5L640.5 351.5L641.0 353.5L641.5 355.5L642.0 356.8L642.5 357.8L643.0 358.8L643.5 359.8L644.0 360.8L644.5 362.0L645.0 363.4L645.5 364.7L646.0 366.0L646.5 367.3L647.0 366.6L647.5 364.5L648.0 362.5L648.5 360.8L649.0 359.5L649.5 358.3L650.0 359.4L650.5 362.0L651.0 363.0L651.5 361.8L652.0 360.5L652.5 361.1L653.0 361.7L653.5 361.7L654.0 360.8L654.5 359.9L655.0 357.3L655.5 353.5L656.0 350.4L656.5 349.8L657.0 352.2L657.5 356.7L658.0 361.2L658.5 357.3L659.0 353.4L659.5 349.5L660.0 347.2L660.5 344.8L661.0 342.5L661.5 340.8L662.0 339.5L662.5 338.1L663.0 336.8L663.5 334.8L664.0 331.7L664.5 328.6L665.0 325.6L665.5 325.1L666.0 324.6L666.5 324.1L667.0 323.4L667.5 322.5L668.0 321.6L668.5 320.7L669.0 321.5L669.5 323.5L670.0 325.4L670.5 327.8L671.0 330.8L671.5 333.8L672.0 337.3L672.5 341.1L673.0 344.8L673.5 348.2L674.0 351.1L674.5 353.9L675.0 353.7L675.5 351.3L676.0 349.0L676.5 346.2L677.0 342.7L677.5 339.2L678.0 335.8L678.5 338.1L679.0 340.3L679.5 342.6L680.0 341.9L680.5 339.1L681.0 336.2L681.5 332.9L682.0 328.8L682.5 324.7L683.0 322.1L683.5 320.4L684.0 318.7L684.5 317.1L685.0 316.8L685.5 316.4L686.0 316.1L686.5 315.8L687.0 316.8L687.5 318.2L688.0 319.5L688.5 321.2L689.0 324.2L689.5 327.2L690.0 330.0L690.5 332.0L691.0 334.0L691.5 336.1L692.0 336.3L692.5 336.6L693.0 336.9L693.5 338.0L694.0 340.3L694.5 342.6L695.0 346.6L695.5 351.6L696.0 355.8L696.5 359.0L697.0 362.2L697.5 365.4L698.0 364.2L698.5 358.4L699.0 355.4L699.5 353.1L700.0 350.9L700.5 350.0L701.0 350.9L701.5 351.9L702.0 352.9L702.5 354.3L703.0 355.8L703.5 357.3L704.0 359.0L704.5 360.8L705.0 362.7L705.5 363.9L706.0 364.1L706.5 364.3L707.0 364.6L707.5 361.0L708.0 357.5L708.5 356.3L709.0 358.7L709.5 361.1L710.0 362.3L710.5 362.8L711.0 363.2L711.5 363.6L712.0 363.4L712.5 362.7L713.0 362.1L713.5 363.1L714.0 364.2L714.5 362.3L715.0 358.5L715.5 354.6L716.0 350.4L716.5 346.2L717.0 342.4L717.5 338.7L718.0 335.1L718.5 331.5L719.0 328.1L719.5 324.7L720.0 321.3L720.5 319.7L721.0 318.0L721.5 318.3L722.0 321.5L722.5 324.6L723.0 329.5L723.5 334.3L724.0 339.0L724.5 343.4L725.0 347.9L725.5 351.7L726.0 355.6L726.5 359.1L727.0 362.0L727.5 364.9L728.0 367.9L728.5 365.5L729.0 363.1L729.5 360.7L730.0 358.4L730.5 357.9L731.0 360.0L731.5 362.1L732.0 363.1L732.5 363.4L733.0 363.8L733.5 362.4L734.0 361.0L734.5 361.8L735.0 364.1L735.5 366.5L736.0 367.5L736.5 366.4L737.0 365.4L737.5 359.1L738.0 352.9L738.5 351.2L739.0 349.6L739.5 347.9L740.0 349.8L740.5 351.7L741.0 352.9L741.5 352.9L742.0 352.9L742.5 352.9L743.0 354.6L743.5 356.4L744.0 358.1L744.5 358.1L745.0 357.0L745.5 355.2L746.0 352.5L746.5 349.9L747.0 348.2L747.5 347.1L748.0 346.0L748.5 346.0L749.0 347.5L749.5 349.0L750.0 348.9L750.5 347.8L751.0 347.8L751.5 349.5L752.0 351.3L752.5 356.3L753.0 361.3L753.5 364.0L754.0 366.8L754.5 368.6L755.0 369.7L755.5 370.4L756.0 370.4L756.5 370.4L757.0 371.0L757.5 371.9L758.0 372.9L758.5 375.9L759.0 377.5L759.5 378.1L760.0 378.1L760.5 378.1L760.5 378.5 Z" fill="#7496f6"/>
<path d="M49.5 378.5L49.5 318.8L50.0 319.2L50.5 319.5L51.0 319.9L51.5 320.3L52.0 320.6L52.5 321.0L53.0 321.3L53.5 321.7L54.0 322.0L54.5 322.3L55.0 322.7L55.5 323.0L56.0 324.5L56.5 326.1L57.0 327.6L57.5 329.1L58.0 330.6L58.5 332.1L59.0 333.6L59.5 335.1L60.0 336.6L60.5 338.1L61.0 339.6L61.5 340.4L62.0 340.2L62.5 340.0L63.0 337.1L63.5 334.1L64.0 331.2L64.5 327.9L65.0 324.3L65.5 320.7L66.0 317.1L66.5 314.1L67.0 311.7L67.5 309.4L68.0 307.9L68.5 307.7L69.0 307.5L69.5 307.2L70.0 307.0L70.5 307.8L71.0 308.7L71.5 309.5L72.0 310.4L72.5 311.2L73.0 311.7L73.5 312.2L74.0 312.8L74.5 313.3L75.0 313.8L75.5 314.2L76.0 314.4L76.5 314.7L77.0 314.9L77.5 315.1L78.0 315.3L78.5 316.5L79.0 319.4L79.5 322.2L80.0 325.0L80.5 328.1L81.0 331.1L81.5 334.2L82.0 337.2L82.5 340.3L83.0 343.4L83.5 346.5L84.0 349.6L84.5 350.5L85.0 350.0L85.5 349.5L86.0 349.5L86.5 350.4L87.0 351.3L87.5 352.1L88.0 353.0L88.5 353.9L89.0 353.7L89.5 352.9L90.0 352.2L90.5 351.0L91.0 349.3L91.5 347.6L92.0 345.9L92.5 344.2L93.0 342.9L93.5 341.5L94.0 340.2L94.5 338.8L95.0 337.5L95.5 337.7L96.0 337.9L96.5 338.1L97.0 338.3L97.5 336.6L98.0 335.0L98.5 333.3L99.0 331.7L99.5 331.8L100.0 333.0L100.5 334.2L101.0 335.9L101.5 338.1L102.0 340.3L102.5 342.5L103.0 340.9L103.5 341.0L104.0 343.5L104.5 346.0L105.0 348.5L105.5 351.2L106.0 354.1L106.5 357.1L107.0 360.0L107.5 361.1L108.0 362.3L108.5 363.4L109.0 364.5L109.5 364.9L110.0 364.6L110.5 364.3L111.0 363.3L111.5 360.9L112.0 359.7L112.5 359.1L113.0 358.6L113.5 359.1L114.0 361.2L114.5 363.4L115.0 365.0L115.5 366.2L116.0 367.5L116.5 367.7L117.0 366.3L117.5 364.8L118.0 363.4L118.5 362.4L119.0 362.3L119.5 362.1L120.0 362.0L120.5 361.8L121.0 361.9L121.5 362.4L122.0 362.8L122.5 363.3L123.0 363.1L123.5 362.8L124.0 362.6L124.5 359.6L125.0 354.6L125.5 350.4L126.0 347.2L126.5 344.0L127.0 340.7L127.5 337.5L128.0 333.6L128.5 329.8L129.0 325.9L129.5 322.0L130.0 324.2L130.5 326.5L131.0 328.7L131.5 328.2L132.0 325.8L132.5 323.4L133.0 321.0L133.5 319.1L134.0 317.1L134.5 315.2L135.0 313.3L135.5 313.7L136.0 314.1L136.5 314.4L137.0 316.7L137.5 320.3L138.0 323.8L138.5 320.5L139.0 317.2L139.5 313.8L140.0 312.6L140.5 312.8L141.0 313.0L141.5 313.1L142.0 313.3L142.5 315.3L143.0 317.3L143.5 319.3L144.0 321.1L144.5 322.7L145.0 324.3L145.5 325.9L146.0 327.5L146.5 328.5L147.0 329.5L147.5 330.4L148.0 331.4L148.5 332.0L149.0 331.9L149.5 331.7L150.0 334.0L150.5 337.7L151.0 341.5L151.5 345.2L152.0 348.1L152.5 350.5L153.0 352.9L153.5 355.3L154.0 354.9L154.5 350.3L155.0 345.7L155.5 341.1L156.0 336.2L156.5 330.9L157.0 325.6L157.5 320.3L158.0 315.0L158.5 318.3L159.0 321.6L159.5 324.9L160.0 326.7L160.5 327.4L161.0 328.2L161.5 330.7L162.0 334.2L162.5 337.8L163.0 338.3L163.5 334.0L164.0 329.7L164.5 323.7L165.0 316.5L165.5 309.3L166.0 304.5L166.5 303.2L167.0 302.0L167.5 301.3L168.0 302.9L168.5 304.4L169.0 306.0L169.5 311.3L170.0 316.6L170.5 321.8L171.0 326.4L171.5 329.9L172.0 333.4L172.5 334.6L173.0 332.2L173.5 329.9L174.0 328.3L174.5 327.2L175.0 326.0L175.5 320.5L176.0 314.9L176.5 309.4L177.0 303.8L177.5 298.3L178.0 297.6L178.5 297.0L179.0 296.3L179.5 295.7L180.0 295.0L180.5 295.0L181.0 295.0L181.5 295.0L182.0 295.0L182.5 295.0L183.0 291.1L183.5 287.2L184.0 283.3L184.5 281.1L185.0 280.1L185.5 279.1L186.0 278.1L186.5 277.1L187.0 276.9L187.5 277.3L188.0 277.7L188.5 278.1L189.0 277.1L189.5 275.1L190.0 273.2L190.5 271.2L191.0 271.4L191.5 274.8L192.0 278.3L192.5 281.7L193.0 286.1L193.5 290.5L194.0 294.9L194.5 298.9L195.0 302.5L195.5 306.1L196.0 308.7L196.5 309.7L197.0 310.7L197.5 311.7L198.0 309.2L198.5 306.8L199.0 304.3L199.5 300.6L200.0 296.0L200.5 295.4L201.0 300.8L201.5 306.2L202.0 310.6L202.5 314.3L203.0 318.1L203.5 321.8L204.0 324.7L204.5 327.1L205.0 329.5L205.5 331.9L206.0 332.9L206.5 331.9L207.0 331.0L207.5 330.0L208.0 327.6L208.5 325.1L209.0 322.7L209.5 323.3L210.0 325.9L210.5 328.4L211.0 331.0L211.5 333.4L212.0 335.9L212.5 338.3L213.0 339.4L213.5 340.5L214.0 341.6L214.5 341.0L215.0 339.4L215.5 337.7L216.0 335.5L216.5 332.6L217.0 329.6L217.5 326.7L218.0 322.8L218.5 318.8L219.0 314.9L219.5 311.6L220.0 308.7L220.5 305.8L221.0 302.9L221.5 303.3L222.0 305.9L222.5 308.4L223.0 311.8L223.5 316.2L224.0 320.6L224.5 325.0L225.0 327.7L225.5 330.3L226.0 333.0L226.5 335.6L227.0 336.1L227.5 335.0L228.0 333.9L228.5 331.5L229.0 327.1L229.5 322.7L230.0 318.3L230.5 316.4L231.0 314.4L231.5 312.5L232.0 312.5L232.5 313.8L233.0 315.1L233.5 316.5L234.0 317.8L234.5 317.4L235.0 315.8L235.5 314.2L236.0 311.5L236.5 307.1L237.0 302.7L237.5 298.3L238.0 294.9L238.5 291.5L239.0 288.1L239.5 285.8L240.0 284.2L240.5 282.6L241.0 280.7L241.5 278.1L242.0 275.6L242.5 273.0L243.0 272.7L243.5 272.5L244.0 272.2L244.5 272.0L245.0 271.7L245.5 271.5L246.0 271.2L246.5 271.0L247.0 270.7L247.5 270.5L248.0 269.3L248.5 268.1L249.0 266.9L249.5 264.9L250.0 259.1L250.5 253.4L251.0 249.3L251.5 247.6L252.0 245.9L252.5 244.2L253.0 245.9L253.5 247.6L254.0 249.3L254.5 250.6L255.0 251.6L255.5 252.6L256.0 253.6L256.5 254.6L257.0 255.4L257.5 256.1L258.0 256.7L258.5 257.4L259.0 258.0L259.5 257.7L260.0 256.6L260.5 255.6L261.0 255.8L261.5 257.8L262.0 259.7L262.5 261.7L263.0 257.5L263.5 253.4L264.0 253.9L264.5 257.5L265.0 261.1L265.5 263.0L266.0 262.2L266.5 261.5L267.0 260.8L267.5 260.0L268.0 260.5L268.5 261.0L269.0 261.5L269.5 262.5L270.0 263.8L270.5 265.1L271.0 266.5L271.5 267.8L272.0 269.6L272.5 271.6L273.0 273.7L273.5 275.9L274.0 278.1L274.5 280.4L275.0 282.9L275.5 285.3L276.0 287.4L276.5 289.1L277.0 290.8L277.5 292.5L278.0 292.5L278.5 292.5L279.0 292.5L279.5 292.5L280.0 289.6L280.5 284.6L281.0 279.4L281.5 273.7L282.0 267.9L282.5 262.2L283.0 262.2L283.5 263.8L284.0 265.4L284.5 266.7L285.0 267.8L285.5 268.9L286.0 270.0L286.5 271.1L287.0 272.4L287.5 273.9L288.0 275.4L288.5 276.9L289.0 279.0L289.5 281.6L290.0 284.2L290.5 286.8L291.0 287.7L291.5 286.2L292.0 284.7L292.5 283.2L293.0 281.7L293.5 282.9L294.0 284.2L294.5 285.4L295.0 286.7L295.5 287.0L296.0 287.3L296.5 287.7L297.0 288.0L297.5 288.3L298.0 291.2L298.5 294.2L299.0 297.1L299.5 300.5L300.0 304.1L300.5 307.8L301.0 311.2L301.5 314.1L302.0 317.1L302.5 320.0L303.0 322.0L303.5 323.9L304.0 325.9L304.5 328.7L305.0 332.0L305.5 333.0L306.0 333.9L306.5 334.9L307.0 335.8L307.5 336.8L308.0 337.7L308.5 338.8L309.0 340.0L309.5 341.3L310.0 342.5L310.5 343.7L311.0 345.0L311.5 346.2L312.0 347.0L312.5 347.5L313.0 348.0L313.5 348.5L314.0 349.0L314.5 350.0L315.0 351.4L315.5 352.8L316.0 354.2L316.5 354.2L317.0 352.1L317.5 350.0L318.0 347.9L318.5 346.1L319.0 344.6L319.5 343.1L320.0 341.6L320.5 340.1L321.0 339.5L321.5 340.4L322.0 341.2L322.5 342.1L323.0 343.0L323.5 343.8L324.0 344.7L324.5 344.2L325.0 342.9L325.5 341.5L326.0 340.2L326.5 338.8L327.0 336.9L327.5 334.6L328.0 332.3L328.5 329.9L329.0 327.6L329.5 324.9L330.0 321.9L330.5 318.9L331.0 315.9L331.5 312.9L332.0 310.5L332.5 308.5L333.0 306.5L333.5 304.5L334.0 302.5L334.5 300.5L335.0 298.6L335.5 296.7L336.0 296.3L336.5 298.4L337.0 300.4L337.5 302.5L338.0 305.0L338.5 307.5L339.0 310.0L339.5 312.5L340.0 315.0L340.5 317.7L341.0 320.3L341.5 323.0L342.0 325.6L342.5 328.3L343.0 331.1L343.5 334.0L344.0 336.8L344.5 339.7L345.0 342.5L345.5 341.3L346.0 340.0L346.5 338.8L347.0 338.1L347.5 337.8L348.0 337.5L348.5 337.1L349.0 336.8L349.5 335.6L350.0 333.8L350.5 331.9L351.0 330.1L351.5 328.2L352.0 328.3L352.5 329.6L353.0 331.0L353.5 332.3L354.0 333.7L354.5 333.3L355.0 331.8L355.5 330.3L356.0 328.7L356.5 327.2L357.0 325.7L357.5 324.2L358.0 325.7L358.5 327.2L359.0 328.7L359.5 330.2L360.0 331.7L360.5 330.1L361.0 328.4L361.5 326.8L362.0 325.1L362.5 323.5L363.0 324.0L363.5 327.9L364.0 331.8L364.5 335.5L365.0 339.1L365.5 342.8L366.0 345.8L366.5 347.9L367.0 350.0L367.5 352.1L368.0 354.2L368.5 352.9L369.0 351.5L369.5 350.2L370.0 348.8L370.5 347.5L371.0 346.2L371.5 345.0L372.0 343.7L372.5 342.5L373.0 341.3L373.5 340.0L374.0 338.8L374.5 337.7L375.0 336.7L375.5 335.7L376.0 334.7L376.5 333.7L377.0 330.8L377.5 326.6L378.0 322.5L378.5 318.7L379.0 315.3L379.5 312.0L380.0 308.7L380.5 306.2L381.0 304.9L381.5 303.5L382.0 302.2L382.5 302.7L383.0 304.3L383.5 306.0L384.0 307.6L384.5 310.1L385.0 313.1L385.5 316.1L386.0 319.1L386.5 322.1L387.0 326.1L387.5 330.8L388.0 335.5L388.5 339.1L389.0 341.1L389.5 343.1L390.0 345.1L390.5 347.1L391.0 348.5L391.5 349.0L392.0 349.5L392.5 350.0L393.0 350.5L393.5 350.5L394.0 349.7L394.5 348.8L395.0 348.0L395.5 347.2L396.0 346.4L396.5 345.7L397.0 344.9L397.5 344.2L398.0 343.5L398.5 342.7L399.0 342.0L399.5 341.1L400.0 340.1L400.5 339.1L401.0 338.1L401.5 337.1L402.0 331.7L402.5 323.4L403.0 315.0L403.5 308.5L404.0 304.8L404.5 301.4L405.0 298.3L405.5 295.5L406.0 292.7L406.5 289.9L407.0 287.9L407.5 286.5L408.0 285.1L408.5 283.7L409.0 282.3L409.5 280.8L410.0 279.4L410.5 277.9L411.0 276.5L411.5 275.0L412.0 276.4L412.5 277.8L413.0 279.2L413.5 279.9L414.0 279.8L414.5 279.6L415.0 279.5L415.5 279.3L416.0 279.3L416.5 279.6L417.0 279.9L417.5 280.2L418.0 280.5L418.5 280.8L419.0 281.1L419.5 281.4L420.0 281.7L420.5 282.5L421.0 283.2L421.5 284.0L422.0 284.7L422.5 285.5L423.0 286.2L423.5 287.0L424.0 287.7L424.5 288.5L425.0 289.2L425.5 289.9L426.0 290.7L426.5 291.4L427.0 293.1L427.5 295.4L428.0 297.7L428.5 300.1L429.0 302.4L429.5 302.0L430.0 299.9L430.5 297.8L431.0 295.7L431.5 293.6L432.0 293.3L432.5 294.1L433.0 295.0L433.5 295.8L434.0 296.7L434.5 297.0L435.0 297.0L435.5 296.1L436.0 295.2L436.5 294.4L437.0 296.1L437.5 299.5L438.0 302.9L438.5 306.3L439.0 307.3L439.5 307.7L440.0 308.1L440.5 307.0L441.0 304.9L441.5 302.8L442.0 300.4L442.5 297.6L443.0 294.9L443.5 293.2L444.0 293.0L444.5 292.7L445.0 292.5L445.5 292.3L446.0 292.0L446.5 291.8L447.0 291.5L447.5 291.1L448.0 290.7L448.5 290.3L449.0 290.0L449.5 289.6L450.0 289.2L450.5 287.5L451.0 285.7L451.5 284.0L452.0 283.3L452.5 283.3L453.0 283.3L453.5 283.3L454.0 283.3L454.5 283.3L455.0 283.3L455.5 281.6L456.0 280.0L456.5 278.3L457.0 276.7L457.5 275.0L458.0 274.3L458.5 273.7L459.0 273.0L459.5 272.4L460.0 271.7L460.5 271.4L461.0 271.0L461.5 270.7L462.0 270.3L462.5 270.0L463.0 271.0L463.5 272.0L464.0 273.0L464.5 274.0L465.0 275.0L465.5 275.7L466.0 276.3L466.5 277.0L467.0 277.6L467.5 278.3L468.0 278.3L468.5 278.3L469.0 278.3L469.5 278.3L470.0 278.3L470.5 277.5L471.0 276.7L471.5 275.8L472.0 275.0L472.5 274.2L473.0 276.1L473.5 277.9L474.0 279.8L474.5 281.7L475.0 280.6L475.5 279.4L476.0 278.3L476.5 277.2L477.0 275.2L477.5 272.7L478.0 270.2L478.5 267.7L479.0 266.1L479.5 265.0L480.0 263.9L480.5 263.9L481.0 265.4L481.5 267.0L482.0 268.5L482.5 270.0L483.0 272.3L483.5 274.7L484.0 277.0L484.5 279.4L485.0 281.7L485.5 284.0L486.0 286.2L486.5 288.5L487.0 290.7L487.5 293.0L488.0 294.2L488.5 295.4L489.0 296.6L489.5 297.8L490.0 299.0L490.5 299.8L491.0 300.6L491.5 301.4L492.0 302.2L492.5 303.0L493.0 303.4L493.5 303.8L494.0 304.2L494.5 304.6L495.0 305.0L495.5 304.0L496.0 303.0L496.5 302.0L497.0 301.0L497.5 300.0L498.0 299.0L498.5 298.0L499.0 297.0L499.5 296.0L500.0 295.0L500.5 293.5L501.0 292.1L501.5 290.6L502.0 289.1L502.5 287.7L503.0 286.2L503.5 284.8L504.0 285.1L504.5 286.7L505.0 288.3L505.5 289.9L506.0 290.5L506.5 289.8L507.0 289.0L507.5 288.3L508.0 291.2L508.5 294.2L509.0 297.1L509.5 299.6L510.0 301.8L510.5 304.0L511.0 306.1L511.5 307.4L512.0 308.0L512.5 308.6L513.0 309.3L513.5 309.9L514.0 310.5L514.5 310.2L515.0 309.2L515.5 308.2L516.0 307.2L516.5 306.2L517.0 305.3L517.5 304.6L518.0 303.8L518.5 302.6L519.0 300.7L519.5 298.9L520.0 297.0L520.5 297.3L521.0 297.5L521.5 297.8L522.0 298.0L522.5 298.3L523.0 299.2L523.5 300.1L524.0 301.0L524.5 301.9L525.0 302.8L525.5 303.4L526.0 304.0L526.5 304.6L527.0 305.2L527.5 305.8L528.0 306.0L528.5 306.3L529.0 306.5L529.5 306.8L530.0 307.0L530.5 307.2L531.0 307.4L531.5 307.6L532.0 307.8L532.5 308.0L533.0 308.2L533.5 308.5L534.0 308.9L534.5 309.4L535.0 309.8L535.5 310.2L536.0 310.6L536.5 310.9L537.0 311.2L537.5 311.5L538.0 311.8L538.5 311.8L539.0 311.3L539.5 310.9L540.0 310.4L540.5 309.7L541.0 308.1L541.5 306.5L542.0 304.9L542.5 303.3L543.0 303.1L543.5 303.0L544.0 302.8L544.5 302.7L545.0 302.5L545.5 304.7L546.0 306.9L546.5 309.1L547.0 311.0L547.5 312.7L548.0 314.3L548.5 316.0L549.0 317.6L549.5 319.2L550.0 320.8L550.5 322.4L551.0 323.0L551.5 322.2L552.0 321.3L552.5 320.5L553.0 319.7L553.5 319.9L554.0 321.6L554.5 323.3L555.0 325.0L555.5 326.7L556.0 328.3L556.5 330.0L557.0 331.6L557.5 333.3L558.0 334.0L558.5 334.8L559.0 335.5L559.5 335.4L560.0 334.7L560.5 334.1L561.0 333.4L561.5 332.8L562.0 332.4L562.5 332.2L563.0 332.1L563.5 331.9L564.0 331.8L564.5 332.9L565.0 335.0L565.5 334.0L566.0 333.0L566.5 332.0L567.0 331.0L567.5 330.0L568.0 330.7L568.5 331.3L569.0 332.0L569.5 332.6L570.0 333.3L570.5 332.8L571.0 332.4L571.5 331.9L572.0 330.8L572.5 329.3L573.0 327.9L573.5 326.4L574.0 326.6L574.5 328.0L575.0 329.5L575.5 330.9L576.0 331.9L576.5 332.4L577.0 332.9L577.5 333.4L578.0 333.9L578.5 334.2L579.0 334.2L579.5 334.2L580.0 334.2L580.5 334.2L581.0 333.7L581.5 332.5L582.0 331.2L582.5 330.0L583.0 331.8L583.5 333.7L584.0 335.5L584.5 337.4L585.0 339.2L585.5 338.0L586.0 336.8L586.5 335.7L587.0 334.5L587.5 333.3L588.0 333.5L588.5 333.7L589.0 333.8L589.5 334.0L590.0 334.2L590.5 334.4L591.0 334.5L591.5 334.7L592.0 334.8L592.5 335.0L593.0 335.0L593.5 335.0L594.0 335.0L594.5 335.0L595.0 335.0L595.5 338.4L596.0 341.9L596.5 345.3L597.0 348.7L597.5 352.1L598.0 355.4L598.5 358.8L599.0 358.7L599.5 353.4L600.0 348.2L600.5 343.0L601.0 337.9L601.5 332.8L602.0 330.1L602.5 328.8L603.0 327.6L603.5 326.3L604.0 327.2L604.5 329.6L605.0 331.9L605.5 334.3L606.0 336.6L606.5 339.0L607.0 339.7L607.5 339.1L608.0 338.6L608.5 339.5L609.0 342.4L609.5 345.4L610.0 348.3L610.5 349.6L611.0 351.0L611.5 352.3L612.0 353.7L612.5 355.0L613.0 356.0L613.5 357.0L614.0 358.0L614.5 359.0L615.0 360.0L615.5 361.2L616.0 362.5L616.5 363.8L617.0 365.0L617.5 361.2L618.0 357.3L618.5 353.4L619.0 349.5L619.5 345.6L620.0 341.7L620.5 339.0L621.0 336.3L621.5 333.6L622.0 332.0L622.5 331.2L623.0 330.5L623.5 330.7L624.0 332.4L624.5 334.1L625.0 335.8L625.5 337.5L626.0 339.3L626.5 341.0L627.0 339.8L627.5 336.7L628.0 333.6L628.5 329.7L629.0 324.8L629.5 319.9L630.0 315.0L630.5 312.6L631.0 310.1L631.5 307.7L632.0 305.8L632.5 304.2L633.0 302.6L633.5 302.4L634.0 304.1L634.5 305.8L635.0 307.5L635.5 312.6L636.0 317.8L636.5 322.9L637.0 327.5L637.5 331.6L638.0 335.8L638.5 339.7L639.0 343.1L639.5 346.6L640.0 350.0L640.5 352.0L641.0 353.9L641.5 355.9L642.0 357.3L642.5 358.3L643.0 359.3L643.5 360.3L644.0 361.3L644.5 362.5L645.0 363.8L645.5 365.1L646.0 366.5L646.5 367.8L647.0 367.1L647.5 365.0L648.0 362.9L648.5 361.2L649.0 360.0L649.5 358.8L650.0 359.9L650.5 362.4L651.0 363.5L651.5 362.2L652.0 361.0L652.5 361.6L653.0 362.2L653.5 362.1L654.0 361.2L654.5 360.4L655.0 357.8L655.5 354.0L656.0 350.9L656.5 350.3L657.0 352.7L657.5 357.2L658.0 361.7L658.5 357.8L659.0 353.9L659.5 350.0L660.0 347.6L660.5 345.3L661.0 342.9L661.5 341.2L662.0 339.9L662.5 338.6L663.0 337.3L663.5 335.3L664.0 332.2L664.5 329.1L665.0 326.0L665.5 325.5L666.0 325.0L666.5 324.5L667.0 323.8L667.5 322.9L668.0 322.1L668.5 321.2L669.0 322.0L669.5 323.9L670.0 325.8L670.5 328.2L671.0 331.2L671.5 334.3L672.0 337.7L672.5 341.5L673.0 345.3L673.5 348.6L674.0 351.5L674.5 354.4L675.0 354.1L675.5 351.8L676.0 349.4L676.5 346.6L677.0 343.1L677.5 339.7L678.0 336.2L678.5 338.5L679.0 340.8L679.5 343.1L680.0 342.3L680.5 339.5L681.0 336.7L681.5 333.4L682.0 329.2L682.5 325.1L683.0 322.5L683.5 320.8L684.0 319.2L684.5 317.5L685.0 317.2L685.5 316.9L686.0 316.6L686.5 316.3L687.0 317.3L687.5 318.6L688.0 319.9L688.5 321.6L689.0 324.6L689.5 327.6L690.0 330.4L690.5 332.4L691.0 334.5L691.5 336.5L692.0 336.8L692.5 337.1L693.0 337.3L693.5 338.4L694.0 340.8L694.5 343.1L695.0 347.0L695.5 352.0L696.0 356.3L696.5 359.4L697.0 362.6L697.5 365.8L698.0 364.2L698.5 358.8L699.0 355.8L699.5 353.6L700.0 351.3L700.5 350.4L701.0 351.4L701.5 352.3L702.0 353.3L702.5 354.8L703.0 356.2L703.5 357.7L704.0 359.4L704.5 361.2L705.0 363.1L705.5 364.3L706.0 364.5L706.5 364.8L707.0 365.0L707.5 361.5L708.0 357.9L708.5 356.8L709.0 359.1L709.5 361.5L710.0 362.8L710.5 363.2L711.0 363.6L711.5 364.0L712.0 363.8L712.5 363.2L713.0 362.5L713.5 363.5L714.0 364.6L714.5 362.7L715.0 359.0L715.5 355.0L716.0 350.8L716.5 346.7L717.0 342.8L717.5 339.1L718.0 335.5L718.5 331.9L719.0 328.5L719.5 325.1L720.0 321.7L720.5 320.1L721.0 318.5L721.5 318.8L722.0 321.9L722.5 325.0L723.0 329.9L723.5 334.7L724.0 339.4L724.5 343.8L725.0 348.3L725.5 352.1L726.0 356.0L726.5 359.5L727.0 362.4L727.5 365.4L728.0 368.3L728.5 365.9L729.0 363.5L729.5 361.1L730.0 358.9L730.5 358.3L731.0 360.4L731.5 362.5L732.0 363.5L732.5 363.9L733.0 364.2L733.5 362.8L734.0 361.4L734.5 362.2L735.0 364.6L735.5 366.9L736.0 367.9L736.5 366.8L737.0 365.8L737.5 359.6L738.0 353.3L738.5 351.6L739.0 350.0L739.5 348.3L740.0 350.2L740.5 352.1L741.0 353.3L741.5 353.3L742.0 353.3L742.5 353.3L743.0 355.0L743.5 356.8L744.0 358.5L744.5 358.5L745.0 357.4L745.5 355.6L746.0 352.9L746.5 350.3L747.0 348.6L747.5 347.5L748.0 346.4L748.5 346.4L749.0 347.9L749.5 349.4L750.0 349.3L750.5 348.2L751.0 348.2L751.5 350.0L752.0 351.7L752.5 356.7L753.0 361.7L753.5 364.4L754.0 367.2L754.5 369.0L755.0 370.1L755.5 370.8L756.0 370.8L756.5 370.8L757.0 371.4L757.5 372.3L758.0 373.3L758.5 376.3L759.0 377.9L759.5 378.5L760.0 378.5L760.5 378.5L760.5 378.5 Z" fill="#062eae"/>
<path d="M49.5 276.7L52.5 278.8L55.3 267.5L57.5 266.7L59.2 276.3L61.2 284.7L62.5 276.7L64.2 255.0L67.5 229.0L69.7 222.5L71.3 227.5L73.0 244.0L75.0 250.0L76.7 258.3L79.2 263.3L80.8 269.0L82.5 278.0L85.0 293.3L86.7 308.3L88.0 316.7L89.7 315.8L91.7 305.0L93.7 295.8L95.0 293.3L95.8 288.3L96.7 290.8L99.2 274.6L100.8 285.0L102.5 299.2L103.7 286.7L105.3 305.0L107.5 312.5L108.8 316.7L110.8 314.2L112.5 315.0L113.3 312.5L115.0 314.2L116.7 313.3L117.5 301.7L119.2 287.5L120.8 282.5L121.7 286.7L123.3 275.0L125.0 258.3L127.5 233.3L129.5 220.8L131.2 232.5L132.8 211.7L135.0 198.5L136.3 201.7L138.3 220.8L139.7 201.7L142.5 205.8L145.0 221.7L147.5 241.7L150.0 248.3L151.7 263.3L153.7 285.8L155.3 263.3L155.8 255.0L158.0 207.5L160.0 228.3L161.2 227.5L162.8 255.8L164.5 225.0L165.8 200.0L167.5 191.5L169.2 200.0L170.8 241.7L172.5 262.5L173.5 250.0L175.0 215.0L176.3 178.3L178.3 162.5L180.0 160.8L181.7 165.8L183.0 167.5L184.2 151.7L185.8 145.0L187.0 138.3L188.3 146.7L189.7 131.7L190.5 119.2L191.7 130.0L192.5 136.7L193.7 151.7L194.7 180.0L196.2 193.3L197.5 203.3L198.7 180.0L199.7 167.5L201.2 165.8L202.0 196.7L202.7 210.0L203.7 216.7L204.7 236.7L205.8 249.2L207.0 233.3L208.3 219.2L210.0 228.3L211.7 250.0L213.3 271.7L214.5 281.0L215.8 266.7L217.5 246.7L219.2 225.0L220.3 205.0L220.8 193.3L221.7 186.7L223.3 184.2L224.5 193.3L225.3 218.3L227.0 214.2L228.3 208.3L229.2 185.0L230.3 163.3L232.0 162.5L233.3 168.3L234.5 171.7L235.8 158.3L237.0 143.3L238.3 126.7L239.7 120.8L241.2 125.8L242.5 108.3L244.2 112.5L246.2 115.0L247.5 100.0L248.8 99.2L250.8 80.0L252.5 69.2L254.2 78.3L255.5 83.3L256.7 103.3L257.5 105.0L259.5 95.8L261.3 107.5L262.8 86.7L264.5 75.8L265.8 87.5L268.3 80.0L270.0 88.3L271.7 103.3L273.3 113.3L274.7 126.7L275.5 150.0L277.0 163.3L278.7 158.3L280.0 146.7L281.3 134.0L282.5 129.2L283.7 132.5L284.5 165.8L287.0 166.7L288.3 178.3L290.0 191.7L291.2 196.7L292.5 175.0L293.7 160.0L295.3 159.2L297.5 148.3L299.2 160.0L300.8 170.0L302.0 193.3L303.0 210.0L303.3 221.7L305.0 245.0L306.7 273.3L309.2 286.7L311.7 303.3L314.2 300.0L316.3 310.5L318.0 296.7L320.0 275.0L322.5 272.5L325.0 266.7L327.5 255.0L329.2 241.0L330.8 227.0L332.5 213.3L334.2 196.7L335.5 185.0L336.7 181.7L337.8 186.7L338.8 193.3L340.8 200.0L342.0 213.3L343.0 231.0L344.2 243.3L345.8 260.0L349.2 262.5L350.3 261.7L351.3 246.7L352.8 260.8L355.0 260.0L356.7 261.7L358.3 260.0L360.0 263.3L361.3 246.7L362.2 240.8L363.7 240.8L364.7 255.0L365.8 273.3L367.2 286.7L368.7 295.0L370.3 280.0L372.0 263.3L373.7 248.3L375.3 241.0L376.7 226.0L377.5 239.0L378.3 210.0L379.5 190.0L380.8 185.0L382.5 176.7L383.7 172.5L385.0 185.0L386.2 187.5L387.2 201.7L387.8 223.3L388.6 238.0L389.2 243.3L390.8 263.3L392.0 260.0L393.3 273.3L395.0 288.3L396.3 310.0L397.5 317.5L398.8 312.0L400.3 308.0L401.7 285.0L403.3 261.7L405.0 242.0L406.7 235.5L408.3 230.0L409.7 223.3L411.7 220.8L413.0 225.0L415.0 217.5L417.0 222.5L419.2 218.3L421.2 227.5L423.3 225.8L425.8 230.0L427.5 235.0L428.3 244.0L429.2 268.0L430.3 271.8L431.8 259.0L433.3 275.8L435.0 270.0L436.7 253.3L438.0 268.3L439.5 283.3L440.8 263.3L442.0 240.0L443.3 228.3L445.0 216.7L446.7 213.3L449.2 212.5L450.3 206.7L451.3 196.7L453.3 194.2L455.0 188.3L456.7 181.7L458.7 175.0L460.0 173.3L461.7 175.0L463.0 175.0L464.2 186.7L465.0 195.0L466.2 193.3L467.2 201.7L468.8 195.0L470.8 188.3L472.5 183.3L473.7 193.3L475.0 200.0L476.3 204.2L477.5 193.3L478.7 180.0L480.3 175.8L482.5 180.0L484.2 188.3L485.3 185.8L486.2 200.0L487.0 218.3L487.8 205.8L489.2 210.0L490.3 225.0L491.7 234.2L493.3 235.0L495.0 225.0L496.7 213.3L498.3 210.0L499.7 201.7L500.8 199.2L502.5 203.3L504.2 205.0L505.3 215.0L506.7 217.5L507.5 216.7L508.3 228.3L509.5 240.0L510.0 243.3L511.7 256.7L513.7 266.7L515.0 261.7L516.7 250.0L518.0 236.7L518.8 228.3L520.3 224.2L522.0 231.7L524.2 236.7L526.3 238.3L527.5 232.5L528.3 245.0L530.0 260.0L531.7 261.7L533.3 264.2L535.5 266.7L537.5 265.0L540.0 264.2L541.2 251.7L543.3 248.3L545.3 238.8L547.0 242.5L548.3 255.0L550.0 273.3L550.8 285.8L552.5 280.0L553.7 275.0L555.3 280.0L556.7 286.7L558.7 301.7L560.0 288.3L561.7 290.0L563.3 286.7L565.0 287.0L566.7 293.3L568.7 270.8L570.8 284.2L572.5 265.0L574.2 258.3L575.3 265.0L576.7 295.0L578.0 306.7L580.3 309.2L581.7 300.0L582.5 295.0L583.7 288.3L585.0 293.3L586.7 276.7L588.3 263.3L589.7 260.8L590.3 266.7L592.0 250.8L593.7 258.3L595.8 253.3L597.0 266.7L597.8 291.7L598.8 316.7L600.0 305.0L600.8 283.3L601.7 268.3L603.3 259.2L604.7 266.7L605.8 288.3L607.0 301.7L607.5 305.0L609.2 308.3L610.3 304.2L612.0 310.0L613.7 306.7L615.0 310.8L616.7 322.5L617.8 308.3L618.7 291.7L620.0 283.3L621.7 275.0L623.3 270.8L625.0 273.3L626.7 282.5L628.0 280.0L629.2 258.3L630.3 243.3L631.7 234.2L632.8 232.5L634.2 238.3L635.3 258.3L636.3 270.0L637.5 267.5L638.7 275.0L639.7 291.7L640.8 300.0L642.0 305.0L644.2 316.7L645.8 323.3L647.0 343.3L648.0 325.0L649.2 311.7L650.5 301.7L651.7 305.5L653.3 303.0L655.0 295.5L656.3 275.0L657.2 291.7L658.3 283.3L660.0 275.0L661.7 270.0L663.3 273.3L664.7 261.7L665.8 245.0L667.5 242.5L669.2 236.7L670.3 238.3L671.7 255.0L673.3 253.3L674.2 271.7L675.3 286.7L676.7 295.0L677.5 298.3L678.3 293.0L678.8 311.7L679.7 334.0L680.5 320.0L681.5 303.3L682.5 288.3L683.7 271.7L684.7 264.2L686.3 262.5L687.8 265.0L688.8 283.3L689.6 303.0L690.3 313.0L691.3 331.0L692.5 318.0L693.7 320.8L694.7 315.8L695.8 333.3L697.0 350.0L698.0 364.2L699.2 345.0L700.5 333.3L701.7 321.7L702.8 310.0L704.2 316.7L705.8 330.0L707.0 339.2L708.3 320.0L709.7 330.0L711.3 325.0L713.0 320.8L714.2 316.7L715.0 305.0L715.8 298.3L717.5 291.7L718.7 275.0L719.7 258.3L720.8 248.3L722.5 242.5L723.7 246.7L724.7 261.7L725.8 273.3L727.2 283.3L728.0 295.0L728.7 305.0L729.2 310.0L730.8 315.0L732.0 311.7L732.8 300.0L733.3 288.3L734.5 273.3L735.3 288.3L736.2 305.0L736.7 316.7L737.5 330.0L738.7 313.3L740.0 320.0L741.3 325.0L742.5 316.7L743.3 312.5L744.7 316.7L745.8 308.0L747.0 291.7L748.3 278.3L749.5 271.7L750.5 283.3L751.7 298.3L752.8 295.0L754.2 300.0L755.3 304.0L756.5 300.0L757.5 306.0L758.7 305.0L760.0 323.3L761.0 323.3" fill="none" stroke="#ea6a5b" stroke-width="0.9" stroke-linejoin="round"/>
<path d="M760.4 323V380" stroke="#becdfb" stroke-width="1"/>
<ellipse cx="759.15" cy="377.8" rx="12.3" ry="12.9" fill="none" stroke="#fb6a1e" stroke-width="3"/>
<text x="36.4" y="56.2" text-anchor="end" font-size="14.2" fill="#53545c" textLength="33.6" lengthAdjust="spacingAndGlyphs">1,200</text>
<text x="36.4" y="111.2" text-anchor="end" font-size="14.2" fill="#53545c" textLength="33.6" lengthAdjust="spacingAndGlyphs">1,000</text>
<text x="36.4" y="165.2" text-anchor="end" font-size="14.2" fill="#53545c">800</text>
<text x="36.4" y="220.2" text-anchor="end" font-size="14.2" fill="#53545c">600</text>
<text x="36.4" y="274.2" text-anchor="end" font-size="14.2" fill="#53545c">400</text>
<text x="36.4" y="329.2" text-anchor="end" font-size="14.2" fill="#53545c">200</text>
<text x="36.4" y="383.2" text-anchor="end" font-size="14.2" fill="#53545c">0</text>
<text x="36.4" y="438.2" text-anchor="end" font-size="14.2" fill="#53545c">-200</text>
<text x="49.5" y="454.6" text-anchor="middle" font-size="14" fill="#53545c">2015</text>
<text x="116.5" y="454.6" text-anchor="middle" font-size="14" fill="#53545c">2016</text>
<text x="183.5" y="454.6" text-anchor="middle" font-size="14" fill="#53545c">2017</text>
<text x="250.5" y="454.6" text-anchor="middle" font-size="14" fill="#53545c">2018</text>
<text x="317.5" y="454.6" text-anchor="middle" font-size="14" fill="#53545c">2019</text>
<text x="384.5" y="454.6" text-anchor="middle" font-size="14" fill="#53545c">2020</text>
<text x="452.5" y="454.6" text-anchor="middle" font-size="14" fill="#53545c">2021</text>
<text x="519.5" y="454.6" text-anchor="middle" font-size="14" fill="#53545c">2022</text>
<text x="586.5" y="454.6" text-anchor="middle" font-size="14" fill="#53545c">2023</text>
<text x="653.5" y="454.6" text-anchor="middle" font-size="14" fill="#53545c">2024</text>
<text x="720.5" y="454.6" text-anchor="middle" font-size="14" fill="#53545c">2025</text>
<text x="189.85" y="22.6" font-size="19.4" fill="#45464e" textLength="53.3" lengthAdjust="spacingAndGlyphs">Crude</text>
<text x="249.10" y="22.6" font-size="19.4" fill="#45464e" textLength="26.4" lengthAdjust="spacingAndGlyphs">Oil:</text>
<text x="282.40" y="22.6" font-size="19.4" fill="#45464e" textLength="84.3" lengthAdjust="spacingAndGlyphs">Managed</text>
<text x="371.10" y="22.6" font-size="19.4" fill="#45464e" textLength="57.2" lengthAdjust="spacingAndGlyphs">Money</text>
<text x="434.80" y="22.6" font-size="19.4" fill="#45464e" textLength="66.7" lengthAdjust="spacingAndGlyphs">Futures</text>
<text x="507.50" y="22.6" font-size="19.4" fill="#45464e" textLength="81.0" lengthAdjust="spacingAndGlyphs">Positions</text>
<text x="10.5" y="30" font-size="12.4" fill="#53545c" textLength="80.5" lengthAdjust="spacing">Million barrels</text>
<rect x="259" y="37" width="25.6" height="6.6" fill="#062eae"/>
<text x="288.6" y="44.3" font-size="12.9" fill="#595a62" textLength="56.1">CME WTI</text>
<rect x="357" y="37" width="24.7" height="6.6" fill="#7496f6"/>
<text x="385.6" y="44.3" font-size="12.9" fill="#595a62" textLength="48.2">ICE WTI</text>
<rect x="446.3" y="37" width="24.5" height="6.6" fill="#becdfb"/>
<text x="474.5" y="44.3" font-size="12.9" fill="#595a62" textLength="32.5">Brent</text>
<path d="M519.6 40.3H543.6" stroke="#dd5f54" stroke-width="1"/>
<text x="548.7" y="44.3" font-size="12.9" fill="#595a62" textLength="30.2">Total</text>
<text x="10.6" y="472.9" font-size="8.7" fill="#34353b" stroke="#34353b" stroke-width="0.1" textLength="146.2" lengthAdjust="spacingAndGlyphs">Source: CFTC, ICE, Bloomberg</text>
<text x="651.6" y="458.2" font-size="30.4" fill="#9a7458" fill-opacity="0.5" stroke="#9a7458" stroke-opacity="0.5" stroke-width="0.5" letter-spacing="2.2">FX678</text>
<text x="650.75" y="457.3" font-size="30.4" fill="#d9e8fa" stroke="#d9e8fa" stroke-width="0.5" letter-spacing="2.2">FX678</text>
</svg>
</body></html>
